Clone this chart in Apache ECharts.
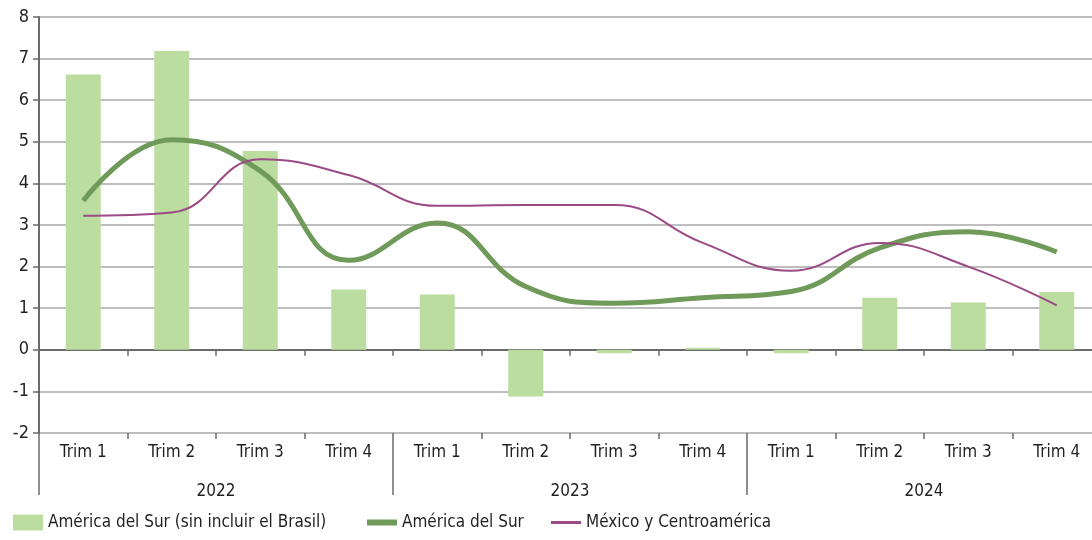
<!DOCTYPE html>
<html>
<head>
<meta charset="utf-8">
<script src="https://cdn.jsdelivr.net/npm/echarts@6/dist/echarts.min.js"></script>
<style>
  html, body { margin: 0; padding: 0; background: #fff; overflow: hidden; }
  #chart { width: 1102px; height: 540px; }
</style>
</head>
<body>
<div id="chart"></div>
<script>
const quarters = ['Trim 1', 'Trim 2', 'Trim 3', 'Trim 4', 'Trim 1', 'Trim 2', 'Trim 3', 'Trim 4', 'Trim 1', 'Trim 2', 'Trim 3', 'Trim 4']
const years = ['2022', '2023', '2024']
const surSinBrasil = [6.62, 7.18, 4.78, 1.45, 1.33, -1.12, -0.08, 0.05, -0.08, 1.25, 1.14, 1.39]
const americaSur = [3.58, 5.05, 4.3, 2.15, 3.05, 1.52, 1.12, 1.25, 1.4, 2.45, 2.84, 2.35]
const mexicoCentro = [3.22, 3.3, 4.58, 4.2, 3.46, 3.48, 3.48, 2.57, 1.9, 2.57, 2.0, 1.07]

const FONT = "'Liberation Sans Narrow', 'DejaVu Sans Condensed', sans-serif"
const TEXT = '#231f20'
const AXIS = '#6b6b6b'
const GRIDLINE = '#a9a9a9'
const C_BAR = '#bcdda0'
const C_SUR = '#6f9a5a'
const C_MEX = '#9b4a86'

const chart = echarts.init(document.getElementById('chart'))

const legendBase = {
  bottom: 4,
  itemWidth: 30,
  itemHeight: 16,
  textStyle: { fontFamily: FONT, fontSize: 17, color: TEXT },
  selectedMode: false
}

chart.setOption({
  animation: false,
  textStyle: { fontFamily: FONT },
  legend: [
    { ...legendBase, left: 8, data: [{ name: 'América del Sur (sin incluir el Brasil)', icon: 'rect' }] },
    { ...legendBase, left: 362, data: [{ name: 'América del Sur', icon: 'rect', itemStyle: { color: C_SUR } }], itemHeight: 6 },
    { ...legendBase, left: 546, data: [{ name: 'México y Centroamérica', icon: 'rect', itemStyle: { color: C_MEX } }], itemHeight: 3 }
  ],
  // the plot runs a little past the right edge of the 1092px window
  grid: { left: 39, right: 1, top: 17, bottom: 107 },
  xAxis: [
    {
      type: 'category',
      data: quarters,
      position: 'bottom',
      axisLine: { onZero: true, lineStyle: { color: AXIS, width: 2 } },
      axisTick: { show: true, length: 6, lineStyle: { color: AXIS, width: 1.5 } },
      axisLabel: { show: false },
      splitLine: { show: false }
    },
    {
      type: 'category',
      data: quarters,
      position: 'bottom',
      axisLine: { show: false, onZero: false },
      axisTick: { show: true, length: 6, lineStyle: { color: AXIS, width: 1.5 } },
      axisLabel: { margin: 11, fontSize: 17, color: TEXT, fontFamily: FONT, interval: 0 },
      splitLine: { show: false }
    },
    {
      type: 'category',
      data: years,
      position: 'bottom',
      axisLine: { show: false, onZero: false },
      axisTick: { show: true, length: 62, lineStyle: { color: AXIS, width: 1.5 } },
      axisLabel: { margin: 50, fontSize: 17, color: TEXT, fontFamily: FONT, interval: 0 },
      splitLine: { show: false }
    }
  ],
  yAxis: {
    type: 'value',
    min: -2,
    max: 8,
    interval: 1,
    axisLine: { show: true, lineStyle: { color: AXIS, width: 2 } },
    axisTick: { show: true, length: 6, lineStyle: { color: AXIS, width: 1.5 } },
    axisLabel: { margin: 10, fontSize: 18, color: TEXT, fontFamily: FONT },
    splitLine: { lineStyle: { color: GRIDLINE, width: 1.5 } }
  },
  series: [
    {
      name: 'América del Sur (sin incluir el Brasil)',
      type: 'bar',
      xAxisIndex: 0,
      data: surSinBrasil,
      barWidth: 35,
      itemStyle: { color: C_BAR }
    },
    {
      name: 'América del Sur',
      type: 'line',
      xAxisIndex: 0,
      data: americaSur,
      smooth: 0.45,
      symbol: 'none',
      lineStyle: { color: C_SUR, width: 5 },
      itemStyle: { color: C_SUR },
      z: 3
    },
    {
      name: 'México y Centroamérica',
      type: 'line',
      xAxisIndex: 0,
      data: mexicoCentro,
      smooth: 0.45,
      symbol: 'none',
      lineStyle: { color: C_MEX, width: 2 },
      itemStyle: { color: C_MEX },
      z: 4
    }
  ]
})
</script>
</body>
</html>
